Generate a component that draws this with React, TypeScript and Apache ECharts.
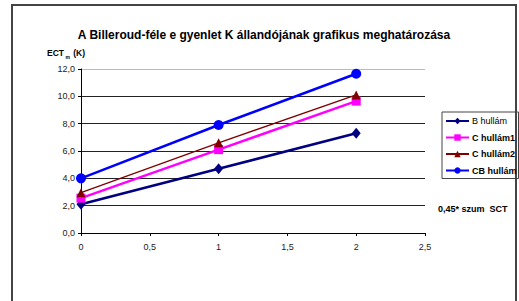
import React, { useEffect, useRef } from "react";
import * as echarts from "echarts";

const xValues = [0, 1, 2];
const seriesNames = ["B hullám", "C hullám1", "C hullám2", "CB hullám"];
const bHullam = [2.1, 4.7, 7.3];
const cHullam1 = [2.55, 6.1, 9.65];
const cHullam2 = [2.95, 6.6, 10.1];
const cbHullam = [4.0, 7.9, 11.65];
const titleText = "A Billeroud-féle e gyenlet K állandójának grafikus meghatározása";
const xAxisName = "0,45* szum  SCT";

const FONT = "'Liberation Sans', Arial, sans-serif";

export default function App() {
  const ref = useRef<HTMLDivElement>(null);
  useEffect(() => {
    if (!ref.current) return;
    const chart = echarts.init(ref.current, undefined, { renderer: "svg" });
    const mk = (vals: number[]) => xValues.map((x, i) => [x, vals[i]]);
    const styles = [
      { color: "#000080", width: 2.5, symbol: "diamond", size: [9, 11] },
      { color: "#FF00FF", width: 2.5, symbol: "rect", size: 9 },
      { color: "#800000", width: 1.3, symbol: "triangle", size: 9 },
      { color: "#0000FF", width: 2.5, symbol: "circle", size: 10 },
    ];
    const datas = [bHullam, cHullam1, cHullam2, cbHullam];
    chart.setOption({
      animation: false,
      textStyle: { fontFamily: FONT },
      title: {
        text: titleText,
        left: 259,
        textAlign: "center",
        top: 24,
        textStyle: { fontSize: 12, fontWeight: "bold", color: "#000", fontFamily: FONT },
      },
      grid: { left: 81, top: 69, width: 344, height: 164 },
      xAxis: {
        type: "value",
        min: 0,
        max: 2.5,
        interval: 0.5,
        axisLine: { lineStyle: { color: "#000", width: 1 } },
        axisTick: { show: true, length: 3, lineStyle: { color: "#000" } },
        splitLine: { show: false },
        axisLabel: {
          margin: 9,
          fontSize: 9,
          color: "#222",
          fontFamily: FONT,
          formatter: (v: number) => String(v).replace(".", ","),
        },
      },
      yAxis: {
        type: "value",
        min: 0,
        max: 12,
        interval: 2,
        axisLine: { show: true, lineStyle: { color: "#000", width: 1 } },
        axisTick: { show: true, length: 3, lineStyle: { color: "#000" } },
        splitLine: {
          show: true,
          lineStyle: { color: ["#222", "#222", "#222", "#222", "#222", "#222", "#bbbbbb"], width: 1 },
        },
        axisLabel: {
          margin: 6,
          fontSize: 9,
          color: "#222",
          fontFamily: FONT,
          formatter: (v: number) => v.toFixed(1).replace(".", ","),
        },
        name: "{a|ECT}{s| m} {a|(K)}",
        nameLocation: "end",
        nameGap: 10,
        nameTextStyle: {
          align: "right",
          padding: [0, -4, 0, 0],
          rich: {
            a: { fontSize: 8.5, fontWeight: "bold", color: "#000", fontFamily: FONT },
            s: { fontSize: 5, fontWeight: "bold", color: "#000", fontFamily: FONT, verticalAlign: "bottom", padding: [4, 0, 0, 0] },
          },
        },
      },
      legend: {
        orient: "vertical",
        left: 442,
        top: 112,
        width: 73,
        padding: [4, 2, 3, 3],
        itemWidth: 23,
        itemHeight: 8,
        itemGap: 6.5,
        borderColor: "#444",
        borderWidth: 1,
        textStyle: { fontSize: 9, fontWeight: "bold", color: "#000", fontFamily: FONT, lineHeight: 10, padding: [0, 0, 0, -2] },
        data: [
          { name: seriesNames[0], textStyle: { fontWeight: "normal" } },
          { name: seriesNames[1] },
          { name: seriesNames[2] },
          { name: seriesNames[3] },
        ],
      },
      graphic: [
        {
          type: "rect",
          shape: { x: 12, y: 5, width: 504, height: 320 },
          style: { fill: "none", stroke: "#444", lineWidth: 2 },
          silent: true,
        },
        {
          type: "text",
          x: 438,
          y: 209,
          style: {
            text: xAxisName,
            fontSize: 9,
            fontWeight: "bold",
            fill: "#000",
            fontFamily: FONT,
            verticalAlign: "middle",
          },
        },
      ],
      series: seriesNames.map((name, i) => ({
        name,
        type: "line",
        data: mk(datas[i]),
        symbol: styles[i].symbol,
        symbolSize: styles[i].size,
        showSymbol: true,
        itemStyle: { color: styles[i].color },
        lineStyle: { color: styles[i].color, width: styles[i].width },
        z: 2 + i,
      })),
    });
    return () => chart.dispose();
  }, []);
  return (
    <div
      ref={ref}
      style={{ position: "fixed", left: 0, top: 0, width: 519, height: 301, background: "#fff" }}
    />
  );
}
